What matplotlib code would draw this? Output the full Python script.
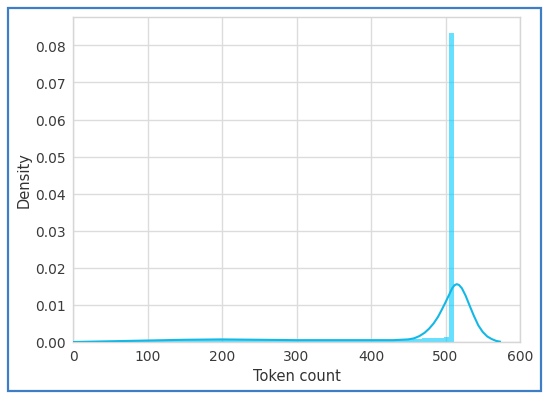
import numpy as np
import matplotlib
matplotlib.use("Agg")
import matplotlib.pyplot as plt
from matplotlib.patches import Rectangle

# ---- data ----
hist_left = 0
hist_right = 512
hist_bins = 70
hist_density = [
    0.0001, 0.0001, 0.0002, 0.0002, 0.0002, 0.0003, 0.0003, 0.0003, 0.0003, 0.0004,
    0.0004, 0.0004, 0.0005, 0.0005, 0.0005, 0.0006, 0.0006, 0.0006, 0.0006, 0.0007,
    0.0007, 0.0007, 0.0007, 0.0007, 0.0007, 0.0007, 0.0007, 0.0006, 0.0006, 0.0006,
    0.0006, 0.0006, 0.0005, 0.0005, 0.0005, 0.0005, 0.0005, 0.0005, 0.0005, 0.0005,
    0.0005, 0.0005, 0.0005, 0.0005, 0.0005, 0.0005, 0.0005, 0.0005, 0.0005, 0.0005,
    0.0005, 0.0005, 0.0005, 0.0005, 0.0005, 0.0005, 0.0005, 0.0005, 0.0006, 0.0006,
    0.0006, 0.0007, 0.0008, 0.0009, 0.0010, 0.0011, 0.0012, 0.0012, 0.0013, 0.0833,
]

kde_x = [0, 25, 50, 100, 150, 200, 250, 300, 350, 400, 430, 450, 458, 465, 472,
         478, 484, 490, 495, 500, 505, 509, 512, 515, 518, 522, 527, 532, 538,
         544, 550, 556, 562, 568, 573]
kde_y = [0.0000, 0.0001, 0.0002, 0.0004, 0.0006, 0.0007, 0.0006, 0.0005, 0.0005,
         0.0005, 0.0005, 0.0007, 0.0010, 0.0016, 0.0025, 0.0036, 0.0050, 0.0068,
         0.0087, 0.0107, 0.0128, 0.0145, 0.0153, 0.0156, 0.0154, 0.0145, 0.0125,
         0.0100, 0.0071, 0.0045, 0.0027, 0.0015, 0.0008, 0.0003, 0.0001]

x_ticks = [0, 100, 200, 300, 400, 500, 600]
y_ticks = [0.00, 0.01, 0.02, 0.03, 0.04, 0.05, 0.06, 0.07, 0.08]
x_label = "Token count"
y_label = "Density"

# ---- figure ----
fig = plt.figure(figsize=(5.5, 4.02), dpi=100)
fig.patch.set_facecolor("white")
ax = fig.add_axes([73 / 550, (402 - 343) / 402, (520 - 73) / 550, (343 - 17.5) / 402])

edges = np.linspace(hist_left, hist_right, hist_bins + 1)
ax.bar(edges[:-1], hist_density, width=np.diff(edges), align="edge",
       color="#00ccff", alpha=0.6, linewidth=0, zorder=2)
ax.plot(kde_x, kde_y, color="#14b8e4", linewidth=1.5, zorder=3,
        solid_joinstyle="round")

ax.set_xlim(0, 600)
ax.set_ylim(0, 0.0878)
ax.set_xticks(x_ticks)
ax.set_yticks(y_ticks)
ax.set_yticklabels([f"{v:.2f}" for v in y_ticks])

ax.grid(True, color="#dcdcdc", linewidth=1.0, zorder=0)
ax.set_axisbelow(True)
for s in ax.spines.values():
    s.set_color("#d6d6d6")
    s.set_linewidth(1.0)
ax.tick_params(length=0, labelsize=10, colors="#3a3a3a", pad=5)
ax.set_xlabel(x_label, fontsize=10.5, color="#333333", labelpad=4)
ax.set_ylabel(y_label, fontsize=10.5, color="#333333", labelpad=3)

# outer blue frame
fig.patches.append(Rectangle((8 / 550, (402 - 392) / 402), (541 - 8) / 550, (392 - 9) / 402,
                             transform=fig.transFigure, fill=False,
                             edgecolor="#3d7ec6", linewidth=1.6))

fig.savefig("out.png", dpi=100)
